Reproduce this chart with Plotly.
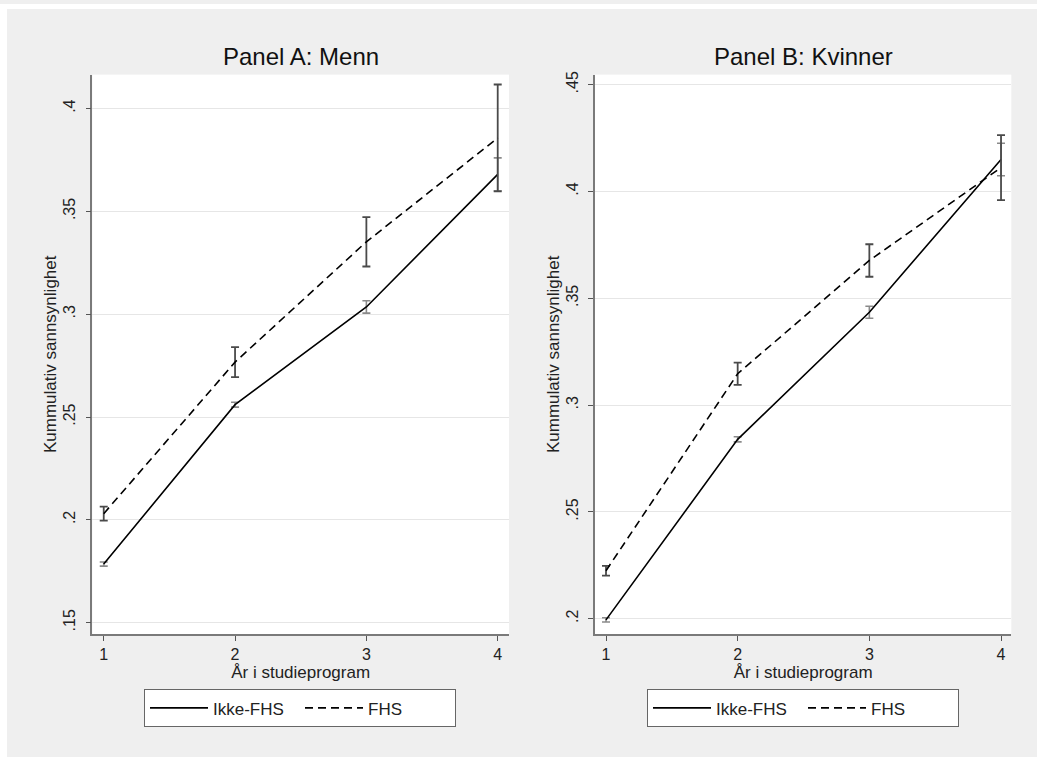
import plotly.graph_objects as go

W, H = 1037, 757

years = [1, 2, 3, 4]
series_names = ["Ikke-FHS", "FHS"]
panel_titles = ["Panel A: Menn", "Panel B: Kvinner"]

# Panel A: Menn
menn_ikke = [0.1785, 0.2560, 0.3035, 0.3680]
menn_ikke_err = [0.0010, 0.0012, 0.0030, 0.0080]
menn_fhs = [0.2030, 0.2767, 0.3352, 0.3857]
menn_fhs_err = [0.0034, 0.0073, 0.0120, 0.0260]

# Panel B: Kvinner
kvinner_ikke = [0.1995, 0.2840, 0.3435, 0.4150]
kvinner_ikke_err = [0.0010, 0.0012, 0.0028, 0.0076]
kvinner_fhs = [0.2225, 0.3147, 0.3677, 0.4112]
kvinner_fhs_err = [0.0023, 0.0052, 0.0076, 0.0152]

a_ticks = [0.15, 0.2, 0.25, 0.3, 0.35, 0.4]
a_ticktext = [".15", ".2", ".25", ".3", ".35", ".4"]
b_ticks = [0.2, 0.25, 0.3, 0.35, 0.4, 0.45]
b_ticktext = [".2", ".25", ".3", ".35", ".4", ".45"]
x_ticktext = ["1", "2", "3", "4"]

y_title = "Kummulativ sannsynlighet"
x_title = "År i studieprogram"

FONT = "Liberation Sans, Arial, sans-serif"
BG = "#efefef"

def px_x(v):
    return v / W

def px_y(v):
    return 1 - v / H

fig = go.Figure()

panels = [
    (menn_ikke, menn_ikke_err, menn_fhs, menn_fhs_err, "x", "y", "legend"),
    (kvinner_ikke, kvinner_ikke_err, kvinner_fhs, kvinner_fhs_err, "x2", "y2", "legend2"),
]
for ikke, ikke_e, fhs, fhs_e, xa, ya, lg in panels:
    fig.add_trace(go.Scatter(
        x=years, y=ikke, mode="lines", name=series_names[0],
        line=dict(color="black", width=1.6),
        error_y=dict(type="data", array=ikke_e, visible=True,
                     color="#8a8a8a", thickness=1.6, width=4),
        xaxis=xa, yaxis=ya, legend=lg))
    fig.add_trace(go.Scatter(
        x=years, y=fhs, mode="lines", name=series_names[1],
        line=dict(color="black", width=1.6, dash="8px,5px"),
        error_y=dict(type="data", array=fhs_e, visible=True,
                     color="#4a4a4a", thickness=1.8, width=4),
        xaxis=xa, yaxis=ya, legend=lg))

axis_common = dict(
    showline=True, linecolor="#7a7a7a", linewidth=1.5,
    ticks="outside", ticklen=5, tickcolor="#555", tickwidth=1.2,
    tickfont=dict(family=FONT, size=16, color="#222"),
    zeroline=False,
)
title_font = dict(family=FONT, size=17, color="#222")

xa_dom = [px_x(92.3), px_x(509)]
xb_dom = [px_x(595), px_x(1011.3)]
y_dom = [px_y(633.3), px_y(71)]

legend_common = dict(
    y=px_y(689), xanchor="center", yanchor="top",
    orientation="h", bgcolor="white", bordercolor="#666", borderwidth=1,
    font=dict(family=FONT, size=17, color="#222"),
    itemwidth=58, entrywidth=82, itemclick=False, tracegroupgap=0,
)

fig.update_layout(
    width=W, height=H,
    margin=dict(l=0, r=0, t=0, b=0),
    paper_bgcolor=BG,
    plot_bgcolor="white",
    font=dict(family=FONT, color="#222"),
    xaxis=dict(domain=xa_dom, range=[0.913, 4.086], tickvals=years, ticktext=x_ticktext,
               showgrid=False, anchor="y",
               title=dict(text=x_title, font=title_font, standoff=0),
               **axis_common),
    yaxis=dict(domain=y_dom, range=[0.1445, 0.4165], tickvals=a_ticks, ticktext=a_ticktext,
               tickangle=-90, showgrid=True, gridcolor="#e6e6e6", gridwidth=1.2, anchor="x",
               ticklabelstandoff=4,
               title=dict(text=y_title, font=title_font, standoff=0),
               **axis_common),
    xaxis2=dict(domain=xb_dom, range=[0.9165, 4.078], tickvals=years, ticktext=x_ticktext,
                showgrid=False, anchor="y2",
                title=dict(text=x_title, font=title_font, standoff=0),
                **axis_common),
    yaxis2=dict(domain=y_dom, range=[0.1929, 0.4547], tickvals=b_ticks, ticktext=b_ticktext,
                tickangle=-90, showgrid=True, gridcolor="#e6e6e6", gridwidth=1.2, anchor="x2",
                ticklabelstandoff=4,
                title=dict(text=y_title, font=title_font, standoff=0),
                **axis_common),
    legend=dict(x=px_x(300), **legend_common),
    legend2=dict(x=px_x(803), **legend_common),
    showlegend=True,
    shapes=[
        dict(type="rect", xref="paper", yref="paper",
             x0=0, x1=px_x(7), y0=0, y1=1,
             fillcolor="white", line=dict(width=0)),
        dict(type="rect", xref="paper", yref="paper",
             x0=0, x1=1, y0=px_y(5), y1=1,
             fillcolor="white", line=dict(width=0)),
    ],
    annotations=[
        dict(text=panel_titles[0], x=(xa_dom[0] + xa_dom[1]) / 2, y=px_y(53),
             xref="paper", yref="paper", showarrow=False, xanchor="center", yanchor="middle",
             font=dict(family=FONT, size=24, color="#111")),
        dict(text=panel_titles[1], x=(xb_dom[0] + xb_dom[1]) / 2, y=px_y(53),
             xref="paper", yref="paper", showarrow=False, xanchor="center", yanchor="middle",
             font=dict(family=FONT, size=24, color="#111")),
    ],
)

fig.write_html(
    "out.html",
    config={"displayModeBar": False},
    post_script="document.body.style.margin='0';document.body.style.overflow='hidden';",
)
